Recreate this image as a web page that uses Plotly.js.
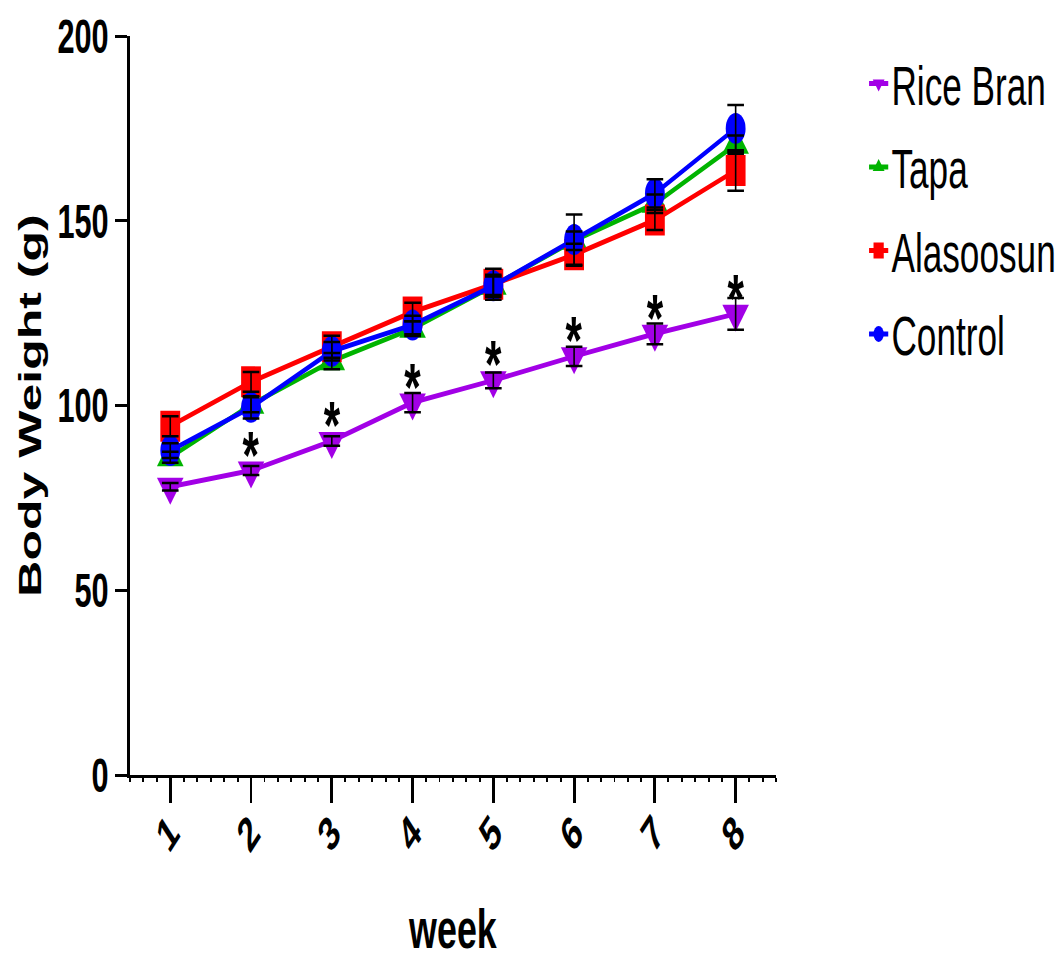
<!DOCTYPE html>
<html><head><meta charset="utf-8">
<script src="https://cdn.plot.ly/plotly-3.0.1.min.js"></script>
<style>
html,body{margin:0;padding:0;overflow:hidden;background:#fff;width:1062px;height:960px;}
#chart{width:1660px;height:960px;transform:scaleX(0.63976);transform-origin:0 0;}
</style></head><body><div id="chart"></div>
<script>
// ---- data ----
const weeks = [1, 2, 3, 4, 5, 6, 7, 8];
const tickLabels = ['1', '2', '3', '4', '5', '6', '7', '8'];
const yTicks = [0, 50, 100, 150, 200];
const riceBran = [78.0, 82.4, 90.4, 100.8, 106.8, 113.3, 119.4, 124.8];
const riceBranSem = [1.0, 1.2, 1.3, 2.6, 2.1, 2.6, 2.8, 4.3];
const tapa = [86.0, 100.2, 112.0, 120.8, 132.4, 144.6, 154.6, 170.6];
const tapaSem = [1.5, 2.0, 2.2, 2.0, 2.5, 2.5, 2.5, 2.5];
const alasoosun = [94.4, 106.4, 115.9, 125.3, 132.8, 140.8, 150.2, 163.6];
const alasoosunSem = [2.7, 2.7, 3.0, 2.5, 4.2, 3.0, 2.7, 5.5];
const control = [87.8, 99.5, 114.7, 121.8, 132.4, 144.9, 157.4, 175.0];
const controlSem = [2.0, 3.0, 2.5, 2.5, 3.0, 6.8, 3.8, 6.3];
const significance = ['', '*', '*', '*', '*', '*', '*', '*'];
const seriesNames = ['Rice Bran', 'Tapa', 'Alasoosun', 'Control'];

// ---- styles ----
const seriesValues = [riceBran, tapa, alasoosun, control];
const seriesSem = [riceBranSem, tapaSem, alasoosunSem, controlSem];
const colors = ['#a200e6', '#00b400', '#ff0000', '#0000ff'];
const symbols = ['triangle-down', 'triangle-up', 'square', 'circle'];
const sizes = [36, 36, 31, 31];
const FONT = 'Liberation Sans, Arial, sans-serif';

const traces = [];
seriesNames.forEach((name, i) => {
  traces.push({
    type: 'scatter', mode: 'lines+markers', name: name,
    x: weeks, y: seriesValues[i], legendgroup: 'g' + i,
    line: {color: colors[i], width: 5},
    marker: {color: colors[i], symbol: symbols[i], size: sizes[i]},
    hoverinfo: 'skip'
  });
});
seriesNames.forEach((name, i) => {
  traces.push({
    type: 'scatter', mode: 'markers', showlegend: false,
    x: weeks, y: seriesValues[i],
    marker: {opacity: 0, size: 1},
    error_y: {type: 'data', array: seriesSem[i], visible: true, color: '#000', thickness: 2.5, width: 13},
    hoverinfo: 'skip'
  });
});

const annotations = [];
significance.forEach((s, i) => {
  if (s) annotations.push({
    x: weeks[i], y: riceBran[i], text: s, showarrow: false,
    yshift: 16, font: {family: FONT, size: 66, color: '#000', weight: 700}
  });
});

const layout = {
  width: 1660, height: 960,
  margin: {l: 203, r: 446.5, t: 36, b: 185, autoexpand: false},
  paper_bgcolor: '#fff', plot_bgcolor: '#fff',
  showlegend: true,
  font: {family: FONT, color: '#000'},
  xaxis: {
    range: [0.5, 8.5], tickvals: weeks, ticktext: tickLabels, tickangle: -45,
    showgrid: false, zeroline: false, showline: true, linecolor: '#000', linewidth: 3,
    ticks: 'outside', ticklen: 25, tickwidth: 4.5, tickcolor: '#000',
    tickfont: {family: FONT, size: 48, color: '#000', weight: 700},
    ticklabelstandoff: -18,
    minor: {dtick: 1/6, tick0: 0.5, ticks: 'outside', ticklen: 4, tickwidth: 3, tickcolor: '#000', showgrid: false},
    automargin: false,
    title: {text: 'week', font: {family: FONT, size: 56, color: '#000', weight: 700}, standoff: 50}
  },
  yaxis: {
    range: [0, 200], tickvals: yTicks,
    showgrid: false, zeroline: false, showline: true, linecolor: '#000', linewidth: 4.5,
    ticks: 'outside', ticklen: 19, tickwidth: 3, tickcolor: '#000',
    tickfont: {family: FONT, size: 48, color: '#000', weight: 700},
    automargin: false,
    title: {text: 'Body Weight (g)', font: {family: FONT, size: 50, color: '#000', weight: 700}, standoff: 10}
  },
  legend: {
    x: 1.139, xanchor: 'left', y: 0.993, yanchor: 'top',
    bgcolor: 'rgba(0,0,0,0)', font: {family: FONT, size: 55, color: '#000'},
    tracegroupgap: 9, traceorder: 'grouped'
  },
  annotations: annotations
};

Plotly.newPlot('chart', traces, layout, {displayModeBar: false, staticPlot: true});
</script></body></html>
